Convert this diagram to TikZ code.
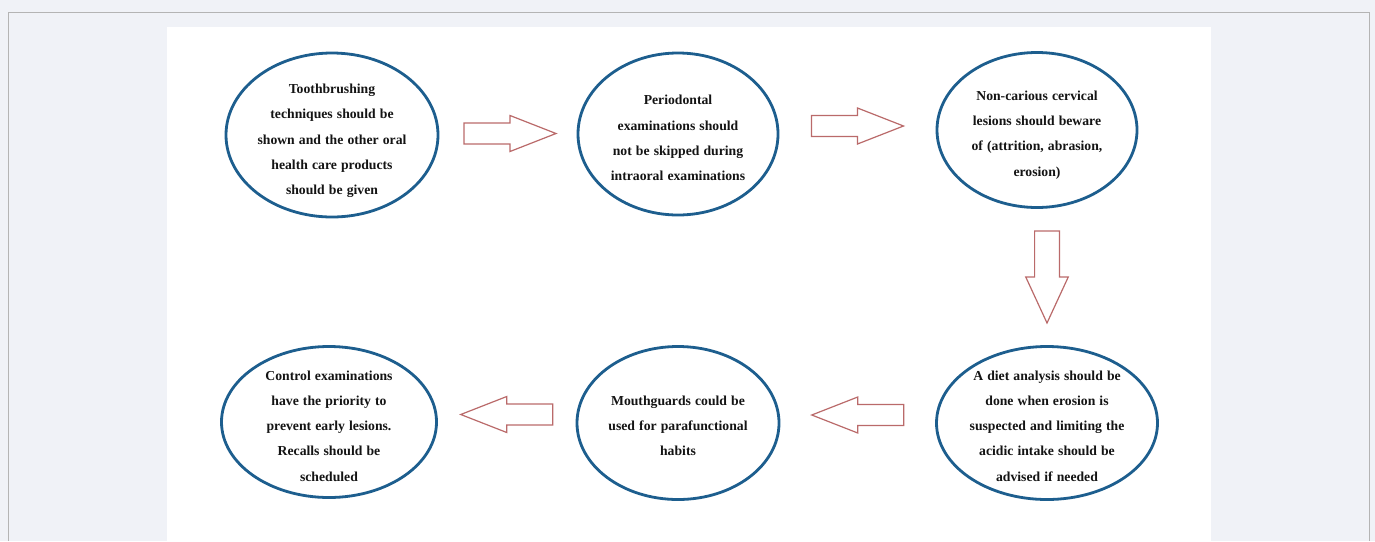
\documentclass[tikz,border=0pt]{standalone}
\usepackage{fontspec}
\setmainfont{Liberation Serif}
\usetikzlibrary{calc, shapes.geometric}

\definecolor{pagegray}{HTML}{F0F2F7}
\definecolor{framegray}{HTML}{B4B4B4}
\definecolor{ovalblue}{HTML}{1D5E8E}
\definecolor{arrowred}{HTML}{BA6A6A}
\newcommand{\bubblefont}{\fontsize{13.7}{25.3}\selectfont\bfseries\spaceskip=0.3em plus 0.1em\relax}

\begin{document}
\begin{tikzpicture}[x=1pt,y=-1pt]
\tikzstyle{bubble}=[ellipse,draw=ovalblue,line width=2.8pt,inner sep=0pt]
\tikzstyle{bubbletext}=[align=center,font=\bubblefont,text=black!92]
\tikzset{pics/blockarrow/.style={code={
  \draw[arrowred,line width=1.2pt,line join=miter] (-46,-10.5) -- (0,-10.5) -- (0,-18) -- (46,0) -- (0,18) -- (0,10.5) -- (-46,10.5) -- cycle;}}}

% page
\fill[pagegray] (0,0) rectangle (1375,541);
\draw[framegray,line width=1pt] (8,541) -- (8,12) -- (1369,12) -- (1369,541);
\fill[white] (167,27) rectangle (1211,541);

% top row
\node[bubble,minimum width=212,minimum height=164] (e1) at (332,135) {};
\node[bubbletext] (t1) at ($(e1)+(0,6)$) {Toothbrushing\\techniques should be\\shown and the other oral\\health care products\\should be given};
\node[bubble,minimum width=200,minimum height=162] (e2) at (678,134) {};
\node[bubbletext] (t2) at ($(e2)+(0,4)$) {Periodontal\\examinations should\\not be skipped during\\intraoral examinations};
\node[bubble,minimum width=200,minimum height=155] (e3) at (1037,130) {};
\node[bubbletext] (t3) at ($(e3)+(0,5)$) {Non-carious cervical\\lesions should beware\\of (attrition, abrasion,\\erosion)};

% bottom row
\node[bubble,minimum width=221,minimum height=153] (e6) at (1047,423) {};
\node[bubbletext] (t6) at ($(e6)+(0,3)$) {A diet analysis should be\\done when erosion is\\suspected and limiting the\\acidic intake should be\\advised if needed};
\node[bubble,minimum width=202,minimum height=153] (e5) at (678,423) {};
\node[bubbletext] (t5) at ($(e5)+(0,3)$) {Mouthguards could be\\used for parafunctional\\habits};
\node[bubble,minimum width=215,minimum height=151] (e4) at (329,422) {};
\node[bubbletext] (t4) at ($(e4)+(0,4)$) {Control examinations\\have the priority to\\prevent early lesions.\\Recalls should be\\scheduled};

% block arrows
\pic at ($(e1.east)!0.5!(e2.west)+(2,-1)$) {blockarrow};
\pic at ($(e2.east)!0.5!(e3.west)+(0,-6)$) {blockarrow};
\coordinate (m3) at ($(e3.south)!0.5!(e6.north)$);
\pic[rotate=-90,yscale=1.18] at (m3 -| e6.north) {blockarrow};
\pic[rotate=180] at ($(e5.east)!0.5!(e6.west)+(0,-8)$) {blockarrow};
\pic[rotate=180] at ($(e4.east)!0.5!(e5.west)+(0,-8)$) {blockarrow};
\end{tikzpicture}
\end{document}
